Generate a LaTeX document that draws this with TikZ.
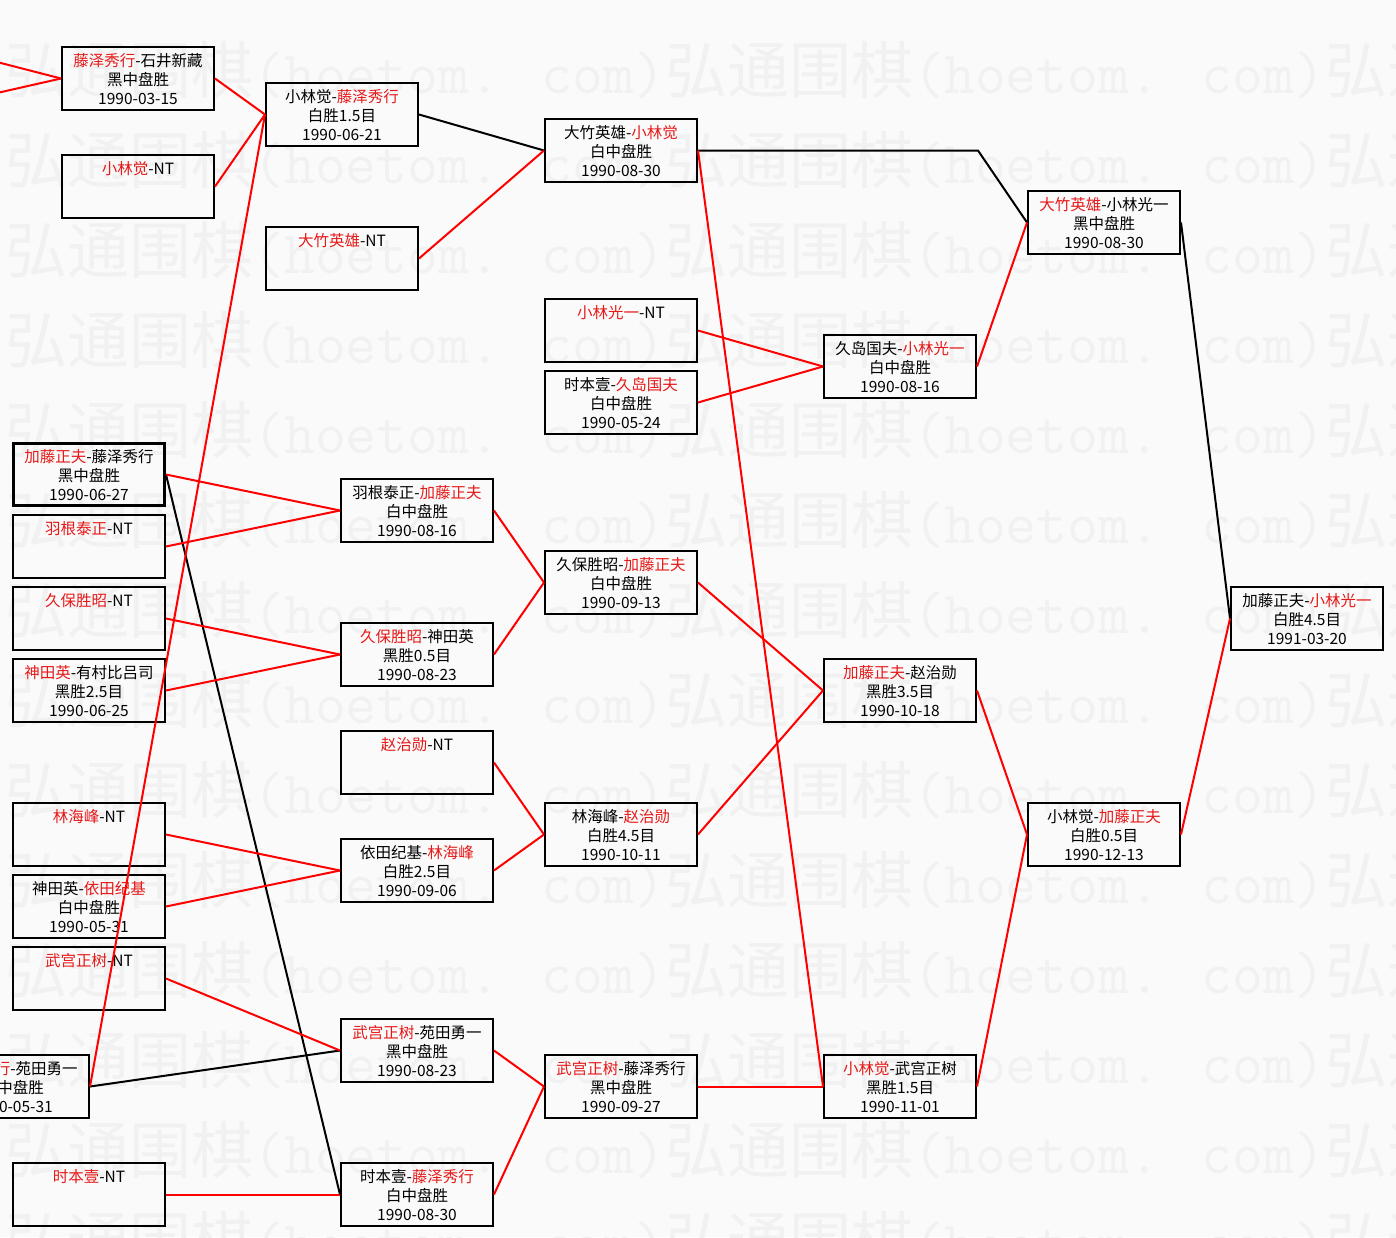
\documentclass[tikz,border=0pt]{standalone}
\usepackage{fontspec}
\setmainfont{Noto Sans CJK SC}
\definecolor{wred}{RGB}{230,25,25}
\definecolor{bgc}{RGB}{250,250,250}
\definecolor{wmc}{RGB}{241,241,241}
\newcommand\R[1]{\textcolor{wred}{#1}}
\newcommand\gm[5][]{\node[gbox,#1] (#2) at (#3) {}; \node[gtxt] (#2t) at (#2.north) {#4#5};}
\newcommand\wmtext{弘通围棋{\ttfamily\fontsize{60}{62}\selectfont(hoetom. com)}}
\begin{document}
\begin{tikzpicture}[x=1pt,y=-1pt,
  gbox/.style={draw=black, line width=2.4pt, minimum width=151.6pt, minimum height=62.6pt, inner sep=0pt},
  thickbox/.style={line width=3.2pt, minimum width=150.8pt, minimum height=61.8pt},
  gtxt/.style={anchor=north, yshift=-7pt, inner sep=0pt, align=center, font=\fontsize{15.5}{19}\selectfont},
  rl/.style={draw=red, line width=2pt},
  bl/.style={draw=black, line width=2pt},
  wmk/.style={anchor=west, inner sep=0pt, text=wmc, font=\fontsize{62}{62}\selectfont}]
\useasboundingbox (0,0) rectangle (1396,1237);
\clip (0,0) rectangle (1396,1237);
\fill[bgc] (0,0) rectangle (1396,1237);
% watermark
\foreach \k in {0,...,13}{
  \node[wmk] (wm\k) at (5,70+90*\k) {\wmtext\wmtext\wmtext};
}
% boxes
\gm{fz}{138,78.5}{\R{藤泽秀行}-石井新藏}{\\黑中盘胜\\1990-03-15}
\gm{xn}{138,186.5}{\R{小林觉}-NT}{}
\gm{b1}{342,114.5}{小林觉-\R{藤泽秀行}}{\\白胜1.5目\\1990-06-21}
\gm{b2}{342,258.5}{\R{大竹英雄}-NT}{}
\gm{c1}{621,150.5}{大竹英雄-\R{小林觉}}{\\白中盘胜\\1990-08-30}
\gm{gn}{621,330.5}{\R{小林光一}-NT}{}
\gm{sj}{621,402.5}{时本壹-\R{久岛国夫}}{\\白中盘胜\\1990-05-24}
\gm{jx}{900,366.5}{久岛国夫-\R{小林光一}}{\\白中盘胜\\1990-08-16}
\gm{dx}{1104,222.5}{\R{大竹英雄}-小林光一}{\\黑中盘胜\\1990-08-30}
\gm{fin}{1307,618.5}{加藤正夫-\R{小林光一}}{\\白胜4.5目\\1991-03-20}
\gm[thickbox]{jt}{89,474.5}{\R{加藤正夫}-藤泽秀行}{\\黑中盘胜\\1990-06-27}
\gm{yn}{89,546.5}{\R{羽根泰正}-NT}{}
\gm{kn}{89,618.5}{\R{久保胜昭}-NT}{}
\gm{sy}{89,690.5}{\R{神田英}-有村比吕司}{\\黑胜2.5目\\1990-06-25}
\gm{ln}{89,834.5}{\R{林海峰}-NT}{}
\gm{sd}{89,906.5}{神田英-\R{依田纪基}}{\\白中盘胜\\1990-05-31}
\gm{wn}{89,978.5}{\R{武宫正树}-NT}{}
\gm{fy}{13,1086.5}{\R{藤泽秀行}-苑田勇一}{\\黑中盘胜\\1990-05-31}
\gm{sn}{89,1194.5}{\R{时本壹}-NT}{}
\gm{yj}{417,510.5}{羽根泰正-\R{加藤正夫}}{\\白中盘胜\\1990-08-16}
\gm{ks}{417,654.5}{\R{久保胜昭}-神田英}{\\黑胜0.5目\\1990-08-23}
\gm{zn}{417,762.5}{\R{赵治勋}-NT}{}
\gm{yl}{417,870.5}{依田纪基-\R{林海峰}}{\\白胜2.5目\\1990-09-06}
\gm{wy}{417,1050.5}{\R{武宫正树}-苑田勇一}{\\黑中盘胜\\1990-08-23}
\gm{sf}{417,1194.5}{时本壹-\R{藤泽秀行}}{\\白中盘胜\\1990-08-30}
\gm{kj}{621,582.5}{久保胜昭-\R{加藤正夫}}{\\白中盘胜\\1990-09-13}
\gm{lz}{621,834.5}{林海峰-\R{赵治勋}}{\\白胜4.5目\\1990-10-11}
\gm{wf}{621,1086.5}{\R{武宫正树}-藤泽秀行}{\\黑中盘胜\\1990-09-27}
\gm{jz}{900,690.5}{\R{加藤正夫}-赵治勋}{\\黑胜3.5目\\1990-10-18}
\gm{xw}{900,1086.5}{\R{小林觉}-武宫正树}{\\黑胜1.5目\\1990-11-01}
\gm{xj}{1104,834.5}{小林觉-\R{加藤正夫}}{\\白胜0.5目\\1990-12-13}
% free ends and bends
\coordinate (offA) at (-100,37);
\coordinate (offB) at (-100,115);
\coordinate (bend) at (978,150.5);
% black connectors
\draw[bl] (b1.east) -- (c1.west);
\draw[bl] (jt.east) -- (sf.west);
\draw[bl] (fy.east) -- (wy.west);
\draw[bl] (c1.east) -- (bend) -- (dx.west);
\draw[bl] (dx.east) -- (fin.west);
% red connectors
\draw[rl] (offA) -- (fz.west);
\draw[rl] (offB) -- (fz.west);
\draw[rl] (fz.east) -- (b1.west);
\draw[rl] (xn.east) -- (b1.west);
\draw[rl] (fy.east) -- (b1.west);
\draw[rl] (b2.east) -- (c1.west);
\draw[rl] (jt.east) -- (yj.west);
\draw[rl] (yn.east) -- (yj.west);
\draw[rl] (kn.east) -- (ks.west);
\draw[rl] (sy.east) -- (ks.west);
\draw[rl] (ln.east) -- (yl.west);
\draw[rl] (sd.east) -- (yl.west);
\draw[rl] (wn.east) -- (wy.west);
\draw[rl] (sn.east) -- (sf.west);
\draw[rl] (yj.east) -- (kj.west);
\draw[rl] (ks.east) -- (kj.west);
\draw[rl] (zn.east) -- (lz.west);
\draw[rl] (yl.east) -- (lz.west);
\draw[rl] (wy.east) -- (wf.west);
\draw[rl] (sf.east) -- (wf.west);
\draw[rl] (c1.east) -- (xw.west);
\draw[rl] (gn.east) -- (jx.west);
\draw[rl] (sj.east) -- (jx.west);
\draw[rl] (kj.east) -- (jz.west);
\draw[rl] (lz.east) -- (jz.west);
\draw[rl] (wf.east) -- (xw.west);
\draw[rl] (jx.east) -- (dx.west);
\draw[rl] (jz.east) -- (xj.west);
\draw[rl] (xw.east) -- (xj.west);
\draw[rl] (xj.east) -- (fin.west);
\end{tikzpicture}
\end{document}
